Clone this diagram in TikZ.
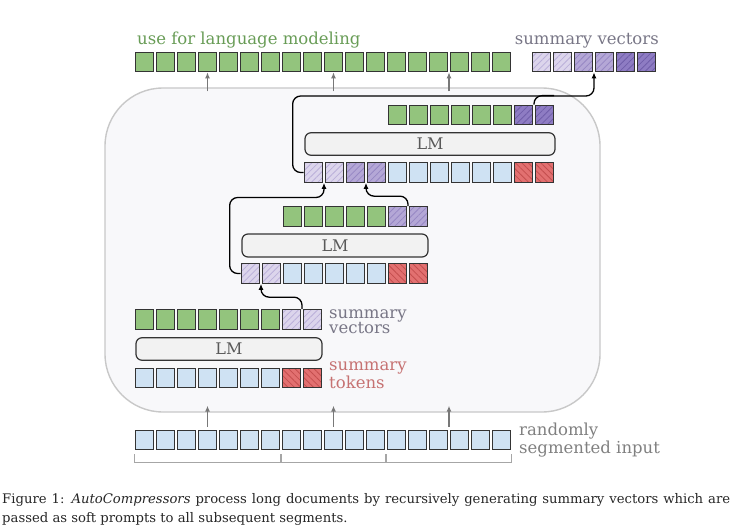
\documentclass[tikz,border=0pt]{standalone}
\usepackage{fontspec}
\setmainfont{DejaVu Serif}
\usepackage{xcolor}
\usepackage{tikz}
\usetikzlibrary{arrows.meta,calc,patterns.meta}
\definecolor{acedge}{RGB}{52,52,52}
\definecolor{actok}{RGB}{207,226,243}
\definecolor{acout}{RGB}{147,196,125}
\definecolor{acred}{RGB}{226,112,112}
\definecolor{acredh}{RGB}{196,78,78}
\definecolor{acva}{RGB}{220,213,236}
\definecolor{acvah}{RGB}{186,176,218}
\definecolor{acvb}{RGB}{180,167,214}
\definecolor{acvbh}{RGB}{150,135,196}
\definecolor{acvc}{RGB}{142,124,195}
\definecolor{acvch}{RGB}{112,94,170}
\definecolor{acbg}{RGB}{248,248,250}
\definecolor{acbgedge}{RGB}{200,200,200}
\definecolor{aclm}{RGB}{242,242,242}
\definecolor{acgreen}{RGB}{104,156,86}
\definecolor{acgrey}{RGB}{120,118,134}
\definecolor{acrose}{RGB}{198,114,114}
\definecolor{acin}{RGB}{128,128,128}
\definecolor{acarr}{RGB}{120,120,120}
\tikzset{
  cell/.style={
    draw=acedge, line width=1.2pt, inner sep=0pt,
    minimum width=18.5pt, minimum height=19.5pt
  },
  tk/.style={cell, fill=actok},
  gr/.style={cell, fill=acout},
  hatch/.style 2 args={
    cell, preaction={fill=#1}, pattern color=#2,
    pattern={Lines[angle=45,distance=4.5pt,line width=0.8pt]}
  },
  va/.style={hatch={acva}{acvah}},
  vb/.style={hatch={acvb}{acvbh}},
  vc/.style={hatch={acvc}{acvch}},
  st/.style={
    cell, preaction={fill=acred}, pattern color=acredh,
    pattern={Lines[angle=-45,distance=4.5pt,line width=0.8pt]}
  },
  lmbox/.style={
    draw=acedge, fill=aclm, line width=1.2pt, rounded corners=6pt,
    inner sep=0pt, text=black!65, font=\fontsize{16}{16}\selectfont
  },
  bgbox/.style={
    draw=acbgedge, fill=acbg, line width=1.4pt, rounded corners=58pt, inner sep=0pt
  },
  sumarr/.style={-{Latex[length=6pt,width=5pt]}, draw=black, line width=1.3pt, rounded corners=8pt},
  sumline/.style={draw=black, line width=1.3pt, rounded corners=8pt},
  grayarr/.style={-{Latex[length=6pt,width=5pt]}, draw=acarr, line width=1.1pt},
  brk/.style={draw=black!35, line width=1.1pt},
  lbl/.style={inner sep=0pt, font=\fontsize{16.5}{15}\selectfont, align=left},
  captxt/.style={inner sep=0pt, text=black!85, font=\fontsize{13.2}{15}\selectfont}
}

\begin{document}
\begin{tikzpicture}[x=1pt,y=-1pt]
  \useasboundingbox (0,0) rectangle (738,532);
  \node[bgbox, minimum width=495pt, minimum height=324pt] (bg) at (352.5,250) {};

  % rows of cells
  \foreach \i in {1,...,18}
    \node[gr] (top-\i) at ({123.5+21*\i},62) {};
  \foreach \s [count=\i] in {va,va,vb,vb,vc,vc}
    \node[\s] (sv-\i) at ({520.5+21*\i},62) {};
  \foreach \s [count=\i] in {gr,gr,gr,gr,gr,gr,vc,vc}
    \node[\s] (c-out-\i) at ({376.5+21*\i},115) {};
  \foreach \s [count=\i] in {va,va,vb,vb,tk,tk,tk,tk,tk,tk,st,st}
    \node[\s] (c-in-\i) at ({292.5+21*\i},172.5) {};
  \foreach \s [count=\i] in {gr,gr,gr,gr,gr,vb,vb}
    \node[\s] (b-out-\i) at ({271.5+21*\i},216.5) {};
  \foreach \s [count=\i] in {va,va,tk,tk,tk,tk,tk,st,st}
    \node[\s] (b-in-\i) at ({229.5+21*\i},273.5) {};
  \foreach \s [count=\i] in {gr,gr,gr,gr,gr,gr,gr,va,va}
    \node[\s] (a-out-\i) at ({123.5+21*\i},319.5) {};
  \foreach \s [count=\i] in {tk,tk,tk,tk,tk,tk,tk,st,st}
    \node[\s] (a-in-\i) at ({123.5+21*\i},378) {};
  \foreach \i in {1,...,18}
    \node[tk] (in-\i) at ({123.5+21*\i},440) {};

  \node[lmbox, minimum width=250pt, minimum height=22.5pt] (lm-c) at (430,144) {LM};
  \node[lmbox, minimum width=186pt, minimum height=23pt] (lm-b) at (335,245.5) {LM};
  \node[lmbox, minimum width=186pt, minimum height=22.5pt] (lm-a) at (229,349) {LM};

  % summary vectors passed on
  \draw[sumarr] ($(a-out-8.north east)!.5!(a-out-9.north west)$) -- ++(0,-12)
    -| ($(b-in-1.south east)!.5!(b-in-2.south west)$);
  \draw[sumarr] (b-in-1.west) -| ($(b-in-1.west)+(-11,-76)$)
    -| ($(c-in-1.south east)!.5!(c-in-2.south west)$);
  \draw[sumarr] ($(b-out-6.north east)!.5!(b-out-7.north west)$) -- ++(0,-10)
    -| ($(c-in-3.south east)!.5!(c-in-4.south west)$);
  \draw[sumarr] (c-in-1.west) -| ($(c-in-1.west)+(-11,-76.5)$)
    -| ($(sv-3.south east)!.5!(sv-4.south west)$);
  \draw[sumline] ($(c-out-7.north east)!.5!(c-out-8.north west)$) |- ++(20,-9);

  % input and output arrows
  \coordinate (jt) at ($(top-15.south east)!.5!(top-16.south west)$);
  \coordinate (ji) at ($(in-15.north east)!.5!(in-16.north west)$);
  \foreach \n in {top-4,top-10,jt}
    \draw[grayarr, shorten <=-4pt] (\n |- bg.north) -- (\n);
  \foreach \n in {in-4.north,in-10.north,ji}
    \draw[grayarr, shorten <=3pt, shorten >=-7pt] (\n) -- (\n |- bg.south);

  \draw[brk] ($(in-1.south west)+(0,4)$) -- ++(0,8) -| ($(in-7.south east)+(0,4)$);
  \draw[brk] ($(in-8.south west)+(0,4)$) -- ++(0,8) -| ($(in-12.south east)+(0,4)$);
  \draw[brk] ($(in-13.south west)+(0,4)$) -- ++(0,8) -| ($(in-18.south east)+(0,4)$);

  \node[lbl, text=acgreen, anchor=base west] (t-lm) at (137,45) {use for language modeling};
  \node[lbl, text=acgrey, anchor=base east] (t-sv) at (659,45) {summary vectors};
  \node[lbl, text=acgrey, anchor=base west] (t-av) at (329,333) {summary\\vectors};
  \node[lbl, text=acrose, anchor=base west] (t-at) at (329,388) {summary\\tokens};
  \node[lbl, text=acin, anchor=base west] (t-in) at (519,453) {randomly\\segmented input};

  \node[captxt, anchor=base west] (cap-1) at (2,503)
    {\makebox[728pt][s]{Figure 1: \textit{AutoCompressors} process long documents by recursively generating summary vectors which are}};
  \node[captxt, anchor=base west] (cap-2) at (2,522)
    {passed as soft prompts to all subsequent segments.};
\end{tikzpicture}
\end{document}
